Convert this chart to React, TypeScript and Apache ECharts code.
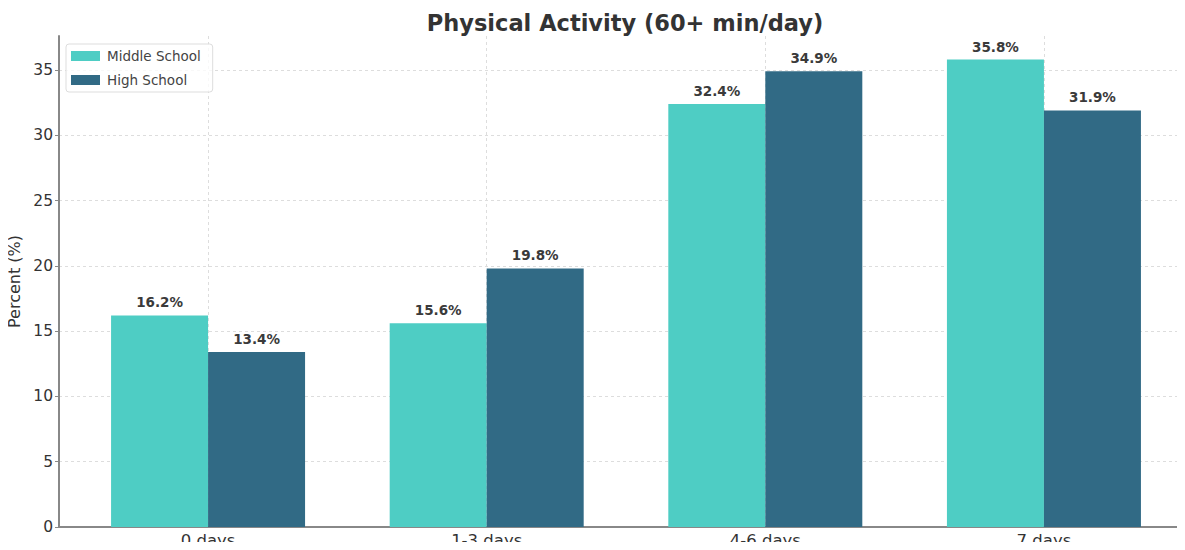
import React, { useEffect, useRef } from "react";
import * as echarts from "echarts";

const categories = ["0 days", "1-3 days", "4-6 days", "7 days"];
const positions = [0, 1, 2, 3];
const middleSchool = [16.2, 15.6, 32.4, 35.8];
const highSchool = [13.4, 19.8, 34.9, 31.9];
const yTicks = [0, 5, 10, 15, 20, 25, 30, 35];

const FONT = "DejaVu Sans";

export default function App() {
  const ref = useRef<HTMLDivElement>(null);
  useEffect(() => {
    if (!ref.current) return;
    const chart = echarts.init(ref.current, undefined, { renderer: "svg" });
    const labelOpt = {
      show: true,
      position: "top",
      distance: 6,
      fontFamily: FONT,
      fontWeight: "bold",
      fontSize: 13.5,
      color: "#3a3a3a",
      formatter: (p: any) => `${p.value[1].toFixed(1)}%`,
    };
    chart.setOption({
      animation: false,
      backgroundColor: "#ffffff",
      title: {
        text: "Physical Activity (60+ min/day)",
        left: 620,
        textAlign: "center",
        top: 6,
        textStyle: { fontFamily: FONT, fontWeight: "bold", fontSize: 22.5, color: "#333333" },
      },
      legend: {
        left: 66,
        top: 44,
        orient: "vertical",
        itemWidth: 29,
        itemHeight: 10,
        itemGap: 10,
        padding: [5, 12, 5, 5],
        borderColor: "#dddddd",
        borderWidth: 1,
        borderRadius: 3,
        backgroundColor: "rgba(255,255,255,0.8)",
        textStyle: { fontFamily: FONT, fontSize: 13.5, color: "#444444", padding: [0, 0, 0, 2] },
        data: [
          { name: "Middle School", icon: "rect" },
          { name: "High School", icon: "rect" },
        ],
      },
      grid: { left: 59, width: 1134, top: 36, height: 491, outerBoundsMode: "none", containLabel: false },
      xAxis: {
        type: "value",
        min: -0.535,
        max: 3.535,
        axisLine: { show: true, onZero: false, lineStyle: { color: "#888888", width: 2 } },
        axisTick: { show: false, customValues: positions },
        axisLabel: {
          customValues: positions,
          formatter: (v: number) => categories[Math.round(v)] ?? "",
          fontFamily: FONT,
          fontSize: 16.5,
          color: "#333333",
          margin: 5,
        },
        splitLine: { show: true, lineStyle: { color: "#dddddd", type: [3, 3], width: 1 } },
      },
      yAxis: {
        type: "value",
        min: 0,
        max: 37.6,
        interval: 5,
        name: "Percent (%)",
        nameLocation: "middle",
        nameGap: 36,
        nameTextStyle: { fontFamily: FONT, fontSize: 16, color: "#333333" },
        axisLine: { show: true, onZero: false, lineStyle: { color: "#888888", width: 2 } },
        axisTick: { show: true, length: 4, lineStyle: { color: "#888888" }, customValues: yTicks },
        axisLabel: {
          fontFamily: FONT,
          fontSize: 15.5,
          color: "#333333",
          margin: 6,
          customValues: yTicks,
        },
        splitLine: { show: true, lineStyle: { color: "#dddddd", type: [3, 3], width: 1 } },
      },
      series: [
        {
          name: "Middle School",
          type: "bar",
          barWidth: 97,
          barGap: "0%",
          itemStyle: { color: "#4ecdc4" },
          label: labelOpt,
          data: positions.map((x, i) => [x, middleSchool[i]]),
        },
        {
          name: "High School",
          type: "bar",
          barWidth: 97,
          barGap: "0%",
          itemStyle: { color: "#316a85" },
          label: labelOpt,
          data: positions.map((x, i) => [x, highSchool[i]]),
        },
      ],
    });
    return () => chart.dispose();
  }, []);
  return <div ref={ref} style={{ width: 1185, height: 550, margin: -8 }} />;
}
